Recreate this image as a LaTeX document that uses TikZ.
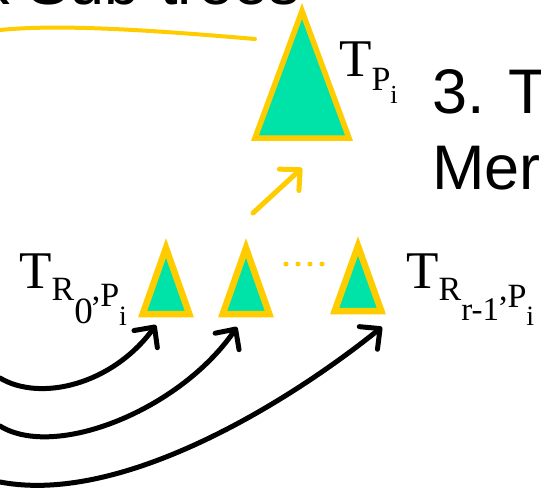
\documentclass[tikz,border=0pt]{standalone}
\usepackage{fontspec}
\setmainfont{Liberation Serif}
\newfontfamily\arialf{Liberation Sans}
\usetikzlibrary{arrows.meta}
\definecolor{tgreen}{RGB}{0,227,168}
\definecolor{tyellow}{RGB}{255,204,0}
\newcommand\fsz[1]{\fontsize{#1}{#1}\selectfont}
\begin{document}
\begin{tikzpicture}[x=1pt,y=-1pt,
  tri/.style={draw=tyellow, fill=tgreen, line width=6.5pt, line join=miter},
  bigtri/.style={tri, line width=5.5pt},
  blackarr/.style={line width=5pt, line cap=round, -{Straight Barb[round,length=15pt,width=29pt]}},
  yelarr/.style={draw=tyellow, line width=5pt, line cap=round, -{Straight Barb[round,length=15pt,width=29pt]}},
  curveline/.style={draw=tyellow, line width=4pt, line cap=round},
  lab/.style={inner sep=0pt, anchor=base west},
  sans/.style={inner sep=0pt, anchor=base west, font=\arialf\fsz{63}},
  dot/.style={fill=tyellow, circle, inner sep=0pt, minimum size=5pt}
]
\useasboundingbox (0,0) rectangle (541,490);

% top title fragment
\node[sans] (title) at (-22,4) {k Sub-trees};
% yellow stroke
\coordinate (c0) at (0,30);
\coordinate (c1) at (255,39);
\draw[curveline] (c0) .. controls (60,24) and (150,30) .. (c1);

% big triangle
\coordinate (bt) at (302,11);
\coordinate (bl) at (255,138);
\coordinate (br) at (349,138);
\draw[bigtri] (bt) -- (br) -- (bl) -- cycle;
\node[lab] (lp) at (339,76) {\fsz{53}T\raisebox{-14pt}{\fsz{34}P}\raisebox{-27pt}{\fsz{26}i}};

% right side text
\node[sans] (t3) at (432,113) {3. T};
\node[sans] (tm) at (432,189) {Mer};

% small triangles
\coordinate (s1t) at (166,248); \coordinate (s1l) at (142.7,314); \coordinate (s1r) at (189.3,314);
\coordinate (s2t) at (246,248); \coordinate (s2l) at (222.7,314); \coordinate (s2r) at (269.3,314);
\coordinate (s3t) at (358,246); \coordinate (s3l) at (334.7,311); \coordinate (s3r) at (381.3,311);
\draw[tri] (s1t) -- (s1r) -- (s1l) -- cycle;
\draw[tri] (s2t) -- (s2r) -- (s2l) -- cycle;
\draw[tri] (s3t) -- (s3r) -- (s3l) -- cycle;

% dots
\foreach \i/\x in {1/286,2/298,3/310,4/322}{\node[dot] (d\i) at (\x,264) {};}

% labels
\node[lab] (l0) at (19,288) {\fsz{53}T\raisebox{-12pt}{\fsz{34}R}\raisebox{-35pt}{\fsz{37}0}\kern-1pt\raisebox{-12pt}{\fsz{34},}\raisebox{-18pt}{\fsz{34}P}\raisebox{-37pt}{\fsz{28}i}};
\node[lab] (l1) at (406,288) {\fsz{53}T\raisebox{-12pt}{\fsz{34}R}\raisebox{-32pt}{\fsz{33}r-1}\raisebox{-12pt}{\fsz{34},}\raisebox{-19pt}{\fsz{34}P}\raisebox{-37pt}{\fsz{28}i}};

% yellow arrow to big triangle
\coordinate (ya) at (253,213);
\coordinate (yb) at (302,168);
\draw[yelarr] (ya) -- (yb);

% black arrows
\coordinate (a1s) at (0,378); \coordinate (a1e) at (156,325);
\coordinate (a2s) at (0,426); \coordinate (a2e) at (237,327);
\coordinate (a3s) at (0,482); \coordinate (a3e) at (382,327);
\draw[blackarr] (a1s) .. controls (40,402) and (112,385) .. (a1e);
\draw[blackarr] (a2s) .. controls (55,460) and (180,410) .. (a2e);
\draw[blackarr] (a3s) .. controls (120,505) and (285,405) .. (a3e);
\end{tikzpicture}
\end{document}
